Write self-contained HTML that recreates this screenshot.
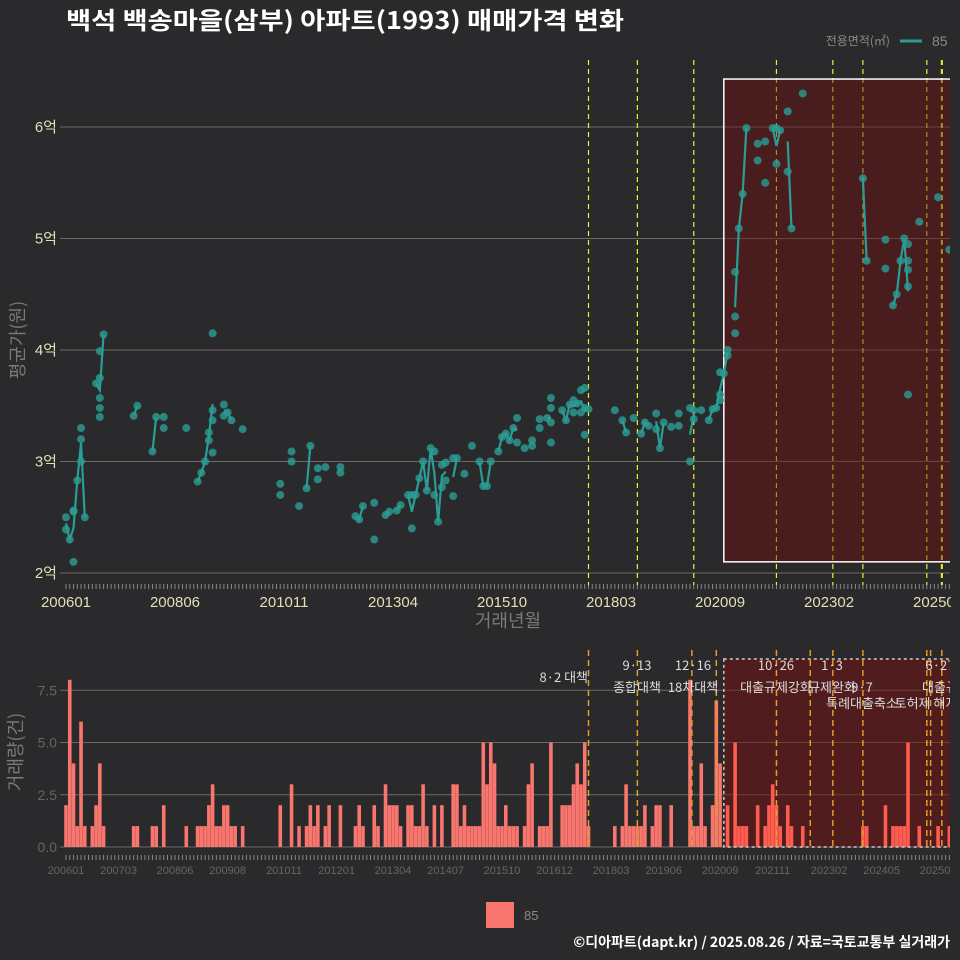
<!DOCTYPE html>
<html><head><meta charset="utf-8">
<style>
html,body{margin:0;padding:0;background:#2a292b;}
svg{display:block;font-family:"Liberation Sans","Noto Sans CJK KR",sans-serif;}
</style></head>
<body>
<svg id="c" width="960" height="960" viewBox="0 0 960 960" xmlns="http://www.w3.org/2000/svg">
<rect x="0" y="0" width="960" height="960" fill="#2a292b"/>
<defs>
<clipPath id="clipTop"><rect x="60" y="55" width="890" height="530"/></clipPath>
<clipPath id="clipBot"><rect x="60" y="650" width="890" height="200"/></clipPath>
<clipPath id="clipLab"><rect x="0" y="580" width="951" height="300"/></clipPath>
</defs>
<text x="66" y="29" fill="#ffffff" font-size="24" font-weight="bold" font-family="'Noto Sans CJK KR',sans-serif" textLength="558" lengthAdjust="spacingAndGlyphs">백석 백송마을(삼부) 아파트(1993) 매매가격 변화</text>
<g>
<text x="890" y="45" fill="#8a8a8a" font-size="12" text-anchor="end" font-family="'Noto Sans CJK KR',sans-serif">전용면적(㎡)</text>
<line x1="900" y1="41" x2="922" y2="41" stroke="#2a9d95" stroke-width="3"/>
<text x="932" y="46" fill="#8a8a8a" font-size="14">85</text>
</g>
<g id="topPanel"></g>
<g id="botPanel"></g>
<g>
<rect x="486" y="902" width="28" height="26" fill="#f8766d"/>
<text x="524" y="920" fill="#8a8a8a" font-size="13">85</text>
</g>
<text x="950" y="947" fill="#ffffff" font-size="14" font-weight="bold" text-anchor="end" font-family="'Noto Sans CJK KR',sans-serif">©디아파트(dapt.kr) / 2025.08.26 / 자료=국토교통부 실거래가</text>
</svg>
<script>
// ---- data ----
const tradeMonths = [0,0,1,2,2,2,3,4,4,4,5,8,9,9,9,9,9,10,18,19,23,24,26,26,32,35,36,37,38,38,39,39,39,39,42,42,43,44,47,57,57,60,60,62,65,64,67,67,69,73,73,77,78,79,82,82,85,86,88,89,91,92,93,92,94,95,97,96,98,98,99,100,100,101,101,103,103,104,106,108,111,112,110,113,115,116,117,118,120,119,120,122,124,124,126,126,128,129,129,129,129,132,133,134,135,135,136,137,137,138,138,138,139,146,148,149,151,153,154,155,157,157,158,159,161,163,163,166,166,167,167,169,171,172,173,174,174,174,175,176,176,178,178,178,179,180,181,184,184,186,186,188,189,190,189,192,192,196,193,212,213,218,218,220,221,222,223,224,224,224,224,224,227,232,235];
const tradePrices = [2.39,2.50,2.30,2.10,2.55,2.56,2.83,3.00,3.30,3.20,2.50,3.70,3.75,3.57,3.48,3.40,3.99,4.14,3.41,3.50,3.09,3.40,3.40,3.30,3.30,2.82,2.90,3.00,3.19,3.26,3.37,4.15,3.08,3.46,3.51,3.41,3.44,3.37,3.29,2.80,2.70,3.09,3.00,2.60,3.14,2.76,2.94,2.84,2.95,2.95,2.90,2.51,2.48,2.60,2.30,2.63,2.52,2.55,2.56,2.61,2.70,2.70,2.70,2.40,2.85,3.00,3.12,2.74,3.09,2.70,2.46,2.97,2.77,2.83,2.99,2.69,3.03,3.03,2.89,3.14,2.78,2.78,3.00,3.00,3.09,3.22,3.25,3.19,3.17,3.30,3.39,3.12,3.14,3.19,3.38,3.30,3.39,3.35,3.57,3.48,3.17,3.46,3.37,3.51,3.44,3.55,3.52,3.64,3.44,3.24,3.48,3.66,3.47,3.46,3.37,3.26,3.39,3.25,3.35,3.32,3.29,3.43,3.12,3.35,3.31,3.43,3.32,3.48,3.00,3.38,3.46,3.46,3.37,3.47,3.48,3.55,3.60,3.80,3.79,3.95,4.00,4.15,4.30,4.70,5.09,5.40,5.99,5.85,5.70,5.87,5.50,5.99,5.99,5.97,5.67,6.14,5.60,6.30,5.09,5.54,4.80,4.99,4.73,4.40,4.50,4.80,5.00,4.95,4.80,4.72,4.57,3.60,5.15,5.37,4.90];
const volMonths = [0,1,2,3,4,5,7,8,9,10,18,19,23,24,26,32,35,36,37,38,39,40,41,42,43,44,45,47,57,60,62,64,65,66,67,69,70,73,77,78,79,82,83,85,86,87,88,89,91,92,93,94,95,96,98,100,103,104,105,106,107,108,109,110,111,112,113,114,115,116,117,118,119,120,122,123,124,126,127,128,129,132,133,134,135,136,137,138,139,146,148,149,150,151,152,153,154,156,157,158,161,166,167,168,169,170,172,173,174,176,178,179,180,181,184,186,187,188,189,190,192,193,196,212,213,218,220,221,222,223,224,227,232,235];
const volCounts = [2,8,4,1,6,1,1,2,4,1,1,1,1,1,2,1,1,1,1,2,3,1,1,2,2,1,1,1,2,3,1,1,2,1,2,1,2,2,1,2,1,2,1,3,2,2,2,1,2,2,1,1,3,1,2,2,3,3,1,2,1,1,1,1,5,3,5,4,1,1,2,1,1,1,1,3,4,1,1,1,5,2,2,2,3,4,3,5,1,1,1,3,1,1,1,1,2,1,2,2,2,8,1,1,4,1,2,7,4,2,5,1,1,1,2,1,2,3,2,1,2,1,1,1,1,2,1,1,1,1,5,1,1,1];
const priceTicks = [2,3,4,5,6];
const priceTickLabels = ["2억","3억","4억","5억","6억"];
const volTicks = [0,2.5,5,7.5];
const volTickLabels = ["0.0","2.5","5.0","7.5"];
const topXTickMonths = [0,29,58,87,116,145,174,203,232];
const topXTickLabels = ["200601","200806","201011","201304","201510","201803","202009","202302","202507"];
const botXTickMonths = [0,14,29,43,58,72,87,101,116,130,145,159,174,188,203,217,232];
const botXTickLabels = ["200601","200703","200806","200908","201011","201201","201304","201407","201510","201612","201803","201906","202009","202111","202302","202405","202507"];
const policyTopMonths = [139,152,167,189,204,212,229,233];
const policyBotMonths = [139,152,166.5,173,189,198,204,212,229,230,233];
const boxMonths = [175,235.5];
const boxPrice = [2.1,6.43];
// ---- scales ----
const NS='http://www.w3.org/2000/svg';
const xs = m => 66 + m*3.759;
const yP = v => 573 - (v-2)*111.5;
const yV = v => 847 - v*20.9;
function mk(parent, tag, attrs){const e=document.createElementNS(NS,tag);for(const k in attrs)e.setAttribute(k,attrs[k]);parent.appendChild(e);return e;}
const topG=document.getElementById('topPanel'), botG=document.getElementById('botPanel');
const labG=mk(document.getElementById('c'),'g',{'clip-path':'url(#clipLab)'});

// ---- top panel ----
priceTicks.forEach((v,i)=>{
  const g=mk(topG,'line',{x1:60,x2:950,y1:yP(v),y2:yP(v),stroke:'#6a6a6a','stroke-width':1});
  
  
  const t=mk(topG,'text',{x:57,y:yP(v)+5,'text-anchor':'end',fill:'#e6dfb5','font-size':15});
  t.textContent=priceTickLabels[i];
  
  
});
for(let m=0;m<=235;m++){
  const tk=mk(topG,'line',{x1:xs(m),x2:xs(m),y1:584,y2:589,stroke:'#8a8a8a','stroke-width':1});
  
  
  const tb=mk(botG,'line',{x1:xs(m),x2:xs(m),y1:855,y2:860,stroke:'#8a8a8a','stroke-width':1});
  
  
}
topXTickMonths.forEach((m,i)=>{
  const t=mk(labG,'text',{x:xs(m),y:607,'text-anchor':'middle',fill:'#e6dfb5','font-size':15});
  t.textContent=topXTickLabels[i];
  
  
});
const pg=mk(topG,'g',{'clip-path':'url(#clipTop)'});
policyTopMonths.forEach((m,i)=>{
  const l=mk(pg,'line',{x1:xs(m),x2:xs(m),y1:60,y2:585,stroke:'#f0f030','stroke-width':i==policyTopMonths.length-1?2:1.2,'stroke-dasharray':'5,4'});
  
  
});
const bx=mk(pg,'rect',{x:xs(boxMonths[0]),y:yP(boxPrice[1]),width:xs(boxMonths[1])-xs(boxMonths[0]),height:yP(boxPrice[0])-yP(boxPrice[1]),fill:'rgba(110,15,15,0.45)',stroke:'#ffffff','stroke-width':1.5});


const sums={},cnt={};
tradeMonths.forEach((m,i)=>{sums[m]=(sums[m]||0)+tradePrices[i];cnt[m]=(cnt[m]||0)+1;});
const ms=Object.keys(sums).map(Number).sort((a,b)=>a-b);
let seg=[];
function flush(){ if(seg.length>1){const p=mk(pg,'polyline',{points:seg.map(q=>q.join(',')).join(' '),fill:'none',stroke:'#2a9d95','stroke-width':2.2});
  
  } seg=[]; }
ms.forEach((m,i)=>{ if(i>0 && m-ms[i-1]>1) flush(); seg.push([xs(m),yP(sums[m]/cnt[m])]); });
flush();
tradeMonths.forEach((m,i)=>{
  const c=mk(pg,'circle',{cx:xs(m),cy:yP(tradePrices[i]),r:4,fill:'rgba(42,157,149,0.8)'});
  
  
});
const t1=mk(topG,'text',{x:508,y:627,'text-anchor':'middle',fill:'#7a7a7a','font-size':18,'font-family':"'Noto Sans CJK KR',sans-serif"});
t1.textContent='거래년월';


const t2=mk(topG,'text',{x:0,y:0,'text-anchor':'middle',fill:'#7a7a7a','font-size':18,transform:'translate(24,340) rotate(-90)','font-family':"'Noto Sans CJK KR',sans-serif"});
t2.textContent='평균가(원)';



// ---- bottom panel ----
volTicks.forEach((v,i)=>{
  const g=mk(botG,'line',{x1:60,x2:950,y1:yV(v),y2:yV(v),stroke:'#6a6a6a','stroke-width':1});
  
  
  const t=mk(botG,'text',{x:57,y:yV(v)+5,'text-anchor':'end',fill:'#666','font-size':14});
  t.textContent=volTickLabels[i];
  
  
});
botXTickMonths.forEach((m,i)=>{
  const t=mk(labG,'text',{x:xs(m),y:874,'text-anchor':'middle',fill:'#666','font-size':11});
  t.textContent=botXTickLabels[i];
  
  
});
const bg=mk(botG,'g',{'clip-path':'url(#clipBot)'});
const bbFill=mk(bg,'rect',{x:xs(boxMonths[0]),y:659,width:xs(boxMonths[1])-xs(boxMonths[0]),height:188,fill:'rgba(120,15,15,0.5)'});


volMonths.forEach((m,i)=>{
  const inBox = m>=boxMonths[0];
  const b=mk(bg,'rect',{x:xs(m)-1.8,y:yV(volCounts[i]),width:3.6,height:yV(0)-yV(volCounts[i]),fill:inBox?'#ff5c50':'#f8766d'});
  
  
});
policyBotMonths.forEach(m=>{
  const l=mk(bg,'line',{x1:xs(m),x2:xs(m),y1:650,y2:860,stroke:'#e0a020','stroke-width':1.5,'stroke-dasharray':'6,4'});
  
  
});
const bb=mk(bg,'rect',{x:xs(boxMonths[0]),y:659,width:xs(boxMonths[1])-xs(boxMonths[0]),height:188,fill:'none',stroke:'#cccccc','stroke-width':1.5,'stroke-dasharray':'3,3'});


const annots=[["8·2 대책",588,682,'end'],["9·13",637,670,'middle'],["종합대책",637,692,'middle'],["12·16",693,670,'middle'],["18차대책",693,692,'middle'],["10·26",776,670,'middle'],["1·3",832,670,'middle'],["대출규제강화",776,692,'middle'],["규제완화",832,692,'middle'],["9·7",862,692,'middle'],["특례대출축소",862,708,'middle'],["토허제 해지",926,708,'middle'],["6·27",940,670,'middle'],["대출규",940,692,'middle']];
annots.forEach(a=>{
  const t=mk(bg,'text',{x:a[1],y:a[2],'text-anchor':a[3],fill:'#dddddd','font-size':13,'font-family':"'Noto Sans CJK KR',sans-serif"});
  t.textContent=a[0];
  
  
});
const t3=mk(botG,'text',{x:0,y:0,'text-anchor':'middle',fill:'#7a7a7a','font-size':18,transform:'translate(22,752) rotate(-90)','font-family':"'Noto Sans CJK KR',sans-serif"});
t3.textContent='거래량(건)';


</script>
</body></html>
